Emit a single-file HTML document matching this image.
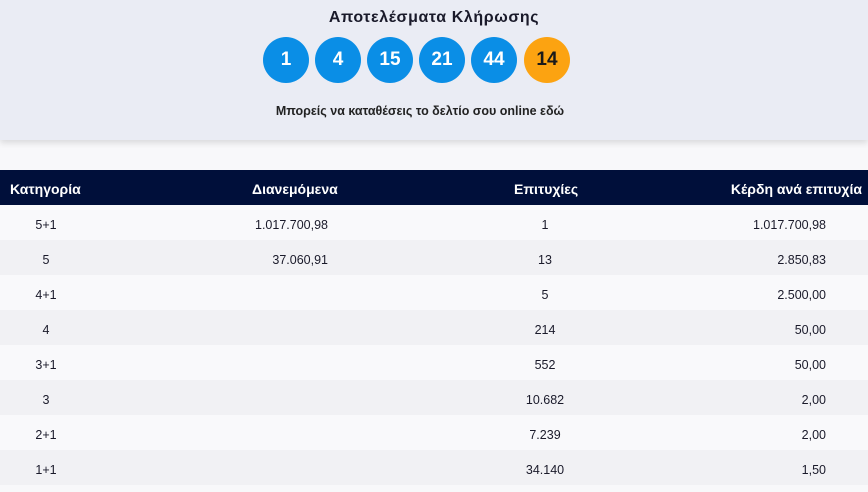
<!DOCTYPE html>
<html><head><meta charset="utf-8"><style>
body{margin:0;width:868px;height:492px;overflow:hidden;background:#f8f8fa;font-family:"Liberation Sans","DejaVu Sans",sans-serif;color:#1a1a2a;position:relative}
.top{position:absolute;left:0;top:0;width:868px;height:140px;background:#eaecf4;box-shadow:0 3px 6px rgba(0,0,0,0.12)}
.title{position:absolute;top:9px;left:0;width:868px;text-align:center;font-weight:bold;font-size:16px;letter-spacing:0.6px}
.ball{position:absolute;top:37px;width:46px;height:46px;border-radius:50%;background:#0a8ee6;color:#fff;font-weight:bold;font-size:19px;line-height:46px;text-align:center}
.sub{position:absolute;top:104px;left:0;width:840px;text-align:center;font-size:12.5px;font-weight:bold;color:#222}
.hdr{position:absolute;top:170px;left:0;width:868px;height:35px;background:#000f3a;color:#fff;font-weight:bold;font-size:14px}
.row{position:absolute;left:0;width:868px;height:35px;font-size:12.5px}
.c{position:absolute;line-height:35px;white-space:nowrap}
.row .c{top:3px}
.hdr .c{top:2px}
</style></head><body>
<div class="top">
<div class="title">Αποτελέσματα Κλήρωσης</div>
<div class="ball" style="left:263px">1</div>
<div class="ball" style="left:315px">4</div>
<div class="ball" style="left:367px">15</div>
<div class="ball" style="left:419px">21</div>
<div class="ball" style="left:471px">44</div>
<div class="ball" style="left:524px;background:#fca311;color:#1a1a1a">14</div>
<div class="sub">Μπορείς να καταθέσεις το δελτίο σου online εδώ</div>
</div>
<div class="hdr">
<span class="c" style="left:10px">Κατηγορία</span>
<span class="c" style="left:252px">Διανεμόμενα</span>
<span class="c" style="left:514px">Επιτυχίες</span>
<span class="c" style="right:6px">Κέρδη ανά επιτυχία</span>
</div>
<div class="row" style="top:205px;background:#f9f9fb"><span class="c" style="left:30px;width:32px;text-align:center">5+1</span><span class="c" style="right:540px">1.017.700,98</span><span class="c" style="left:500px;width:90px;text-align:center">1</span><span class="c" style="right:42px">1.017.700,98</span></div>
<div class="row" style="top:240px;background:#f1f1f4"><span class="c" style="left:30px;width:32px;text-align:center">5</span><span class="c" style="right:540px">37.060,91</span><span class="c" style="left:500px;width:90px;text-align:center">13</span><span class="c" style="right:42px">2.850,83</span></div>
<div class="row" style="top:275px;background:#f9f9fb"><span class="c" style="left:30px;width:32px;text-align:center">4+1</span><span class="c" style="left:500px;width:90px;text-align:center">5</span><span class="c" style="right:42px">2.500,00</span></div>
<div class="row" style="top:310px;background:#f1f1f4"><span class="c" style="left:30px;width:32px;text-align:center">4</span><span class="c" style="left:500px;width:90px;text-align:center">214</span><span class="c" style="right:42px">50,00</span></div>
<div class="row" style="top:345px;background:#f9f9fb"><span class="c" style="left:30px;width:32px;text-align:center">3+1</span><span class="c" style="left:500px;width:90px;text-align:center">552</span><span class="c" style="right:42px">50,00</span></div>
<div class="row" style="top:380px;background:#f1f1f4"><span class="c" style="left:30px;width:32px;text-align:center">3</span><span class="c" style="left:500px;width:90px;text-align:center">10.682</span><span class="c" style="right:42px">2,00</span></div>
<div class="row" style="top:415px;background:#f9f9fb"><span class="c" style="left:30px;width:32px;text-align:center">2+1</span><span class="c" style="left:500px;width:90px;text-align:center">7.239</span><span class="c" style="right:42px">2,00</span></div>
<div class="row" style="top:450px;background:#f1f1f4"><span class="c" style="left:30px;width:32px;text-align:center">1+1</span><span class="c" style="left:500px;width:90px;text-align:center">34.140</span><span class="c" style="right:42px">1,50</span></div>
</body></html>
